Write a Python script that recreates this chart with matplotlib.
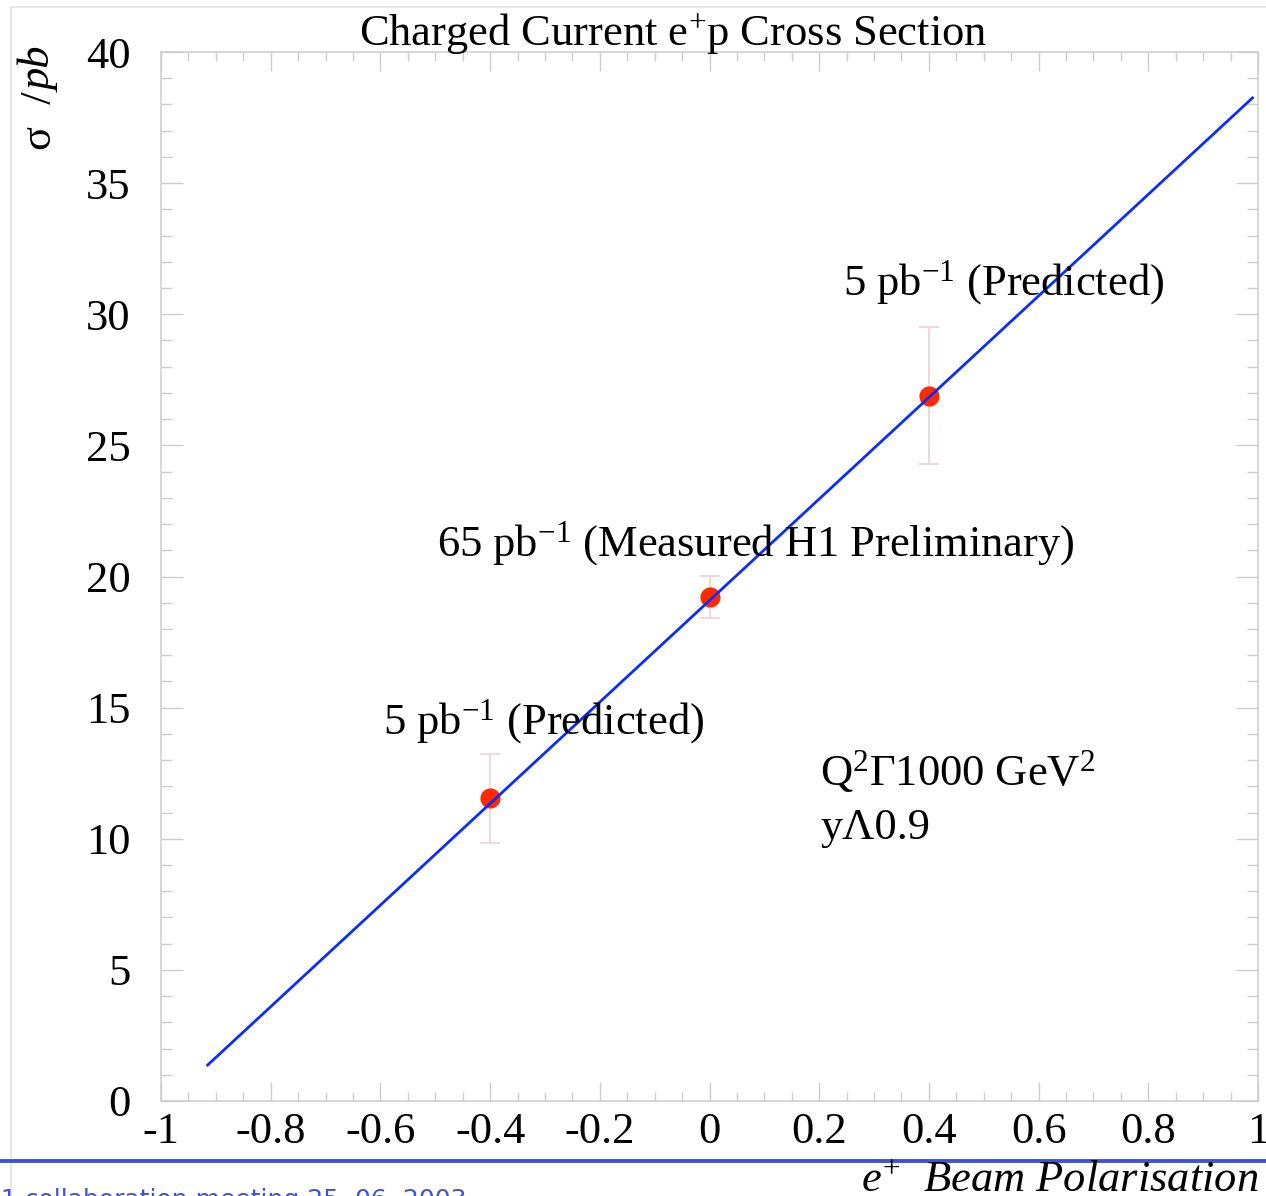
# %% Libraries
# --+ core libraries
import numpy as np
import matplotlib.pyplot as plt
from matplotlib.lines import Line2D
from matplotlib.ticker import MultipleLocator, FuncFormatter

# %% Data
# --+ measured / predicted points
pol = [-0.4, 0.0, 0.4]
xsec = [11.55, 19.22, 26.9]
xsec_err = [1.7, 0.8, 2.62]
# --+ fitted line end points
line_pol = [-0.915, 0.99]
line_xsec = [1.37, 38.25]
# --+ labels
point_labels = ["5 pb$^{-1}$ (Predicted)",
                "65 pb$^{-1}$ (Measured H1 Preliminary)",
                "5 pb$^{-1}$ (Predicted)"]
label_pos = [(-0.595, 14.0), (-0.497, 20.8), (0.2434, 30.75)]
cuts = ["Q$^{2}$Γ1000 GeV$^{2}$", "yΛ0.9"]

# %% Style
plt.rcParams['font.family'] = ['Liberation Serif', 'DejaVu Serif']
plt.rcParams['mathtext.fontset'] = 'custom'
plt.rcParams['mathtext.rm'] = 'Liberation Serif'
plt.rcParams['mathtext.it'] = 'Liberation Serif:italic'
plt.rcParams['mathtext.bf'] = 'Liberation Serif:bold'
plt.rcParams['axes.unicode_minus'] = False
FS = 32
GRAY = '#cdcdcd'

# --+ tick label format (ROOT style, no trailing zeros)
def fmt(v, pos):
    v = round(v, 6)
    return '%g' % (0 if v == 0 else v)

# %% Figure
fig = plt.figure(figsize=(12.66, 11.96), dpi=100)
ax = fig.add_axes([161/1266, 1 - 1101/1196, 1097/1266, 1049/1196])
# --+ line
ax.plot(line_pol, line_xsec, color='#0a2cff', lw=2.0, zorder=3)
# --+ points
ax.errorbar(pol, xsec, yerr=xsec_err, fmt='o', color='#ff2a00',
            ms=14.5, mec='none', ecolor='#f0d2d2', elinewidth=1.2,
            capsize=7.5, capthick=1.2, zorder=2)
# --+ annotations
for (x, y), lab in zip(label_pos, point_labels):
    ax.text(x, y, lab, fontsize=FS, ha='left', va='baseline')
ax.text(0.2015, 12.05, cuts[0], fontsize=FS, ha='left', va='baseline')
ax.text(0.2015, 10.0, cuts[1], fontsize=FS, ha='left', va='baseline')

# --+ axes
ax.set_xlim(-1, 1)
ax.set_ylim(0, 40)
ax.xaxis.set_major_locator(MultipleLocator(0.2))
ax.xaxis.set_minor_locator(MultipleLocator(0.05))
ax.yaxis.set_major_locator(MultipleLocator(5))
ax.yaxis.set_minor_locator(MultipleLocator(1))
ax.xaxis.set_major_formatter(FuncFormatter(fmt))
ax.yaxis.set_major_formatter(FuncFormatter(fmt))
for s in ax.spines.values():
    s.set_color(GRAY)
    s.set_linewidth(1.1)
ax.tick_params(axis='x', which='both', direction='in', top=True, color=GRAY,
               width=1.0, labelsize=FS, pad=8)
ax.tick_params(axis='x', which='major', length=13.7)
ax.tick_params(axis='x', which='minor', length=6.8)
ax.tick_params(axis='y', which='both', direction='in', right=True, color=GRAY,
               width=1.0, labelsize=FS, pad=22)
ax.tick_params(axis='y', which='major', length=15.8)
ax.tick_params(axis='y', which='minor', length=7.9)

# --+ title and axis labels
fig.text(673/1266, 1 - 46/1196, "Charged Current e$^{+}$p Cross Section",
         fontsize=FS, ha='center', va='baseline')
# --+ y label: upright sigma, italic unit
pb = fig.text(40/1266, 1 - 47/1196, "pb", fontsize=FS, style='italic',
              rotation=90, ha='center', va='top')
ax.annotate("σ  /", xy=(0.5, 0), xycoords=pb, fontsize=FS,
            rotation=90, ha='center', va='top', annotation_clip=False)
fig.text(1258/1266, 1 - 1192/1196, "$e^{+}$  Beam Polarisation",
         fontsize=FS, style='italic', ha='right', va='baseline')

# --+ slide decoration
fig.add_artist(Line2D([11/1266, 11/1266], [0, 1 - 7/1196], color='#e2e2e2', lw=1.2))
fig.add_artist(Line2D([11/1266, 1], [1 - 7/1196, 1 - 7/1196], color='#e2e2e2', lw=1.2))
fig.add_artist(Line2D([0, 1], [1 - 1161/1196, 1 - 1161/1196], color='#3f51d9', lw=2.8))
fig.text(-18/1266, 1 - 1188/1196, "H1 collaboration meeting 25. 06. 2003",
         family='DejaVu Sans', fontsize=18, color='#3f51d9', ha='left', va='top')

fig.savefig('out.png', dpi=100)
